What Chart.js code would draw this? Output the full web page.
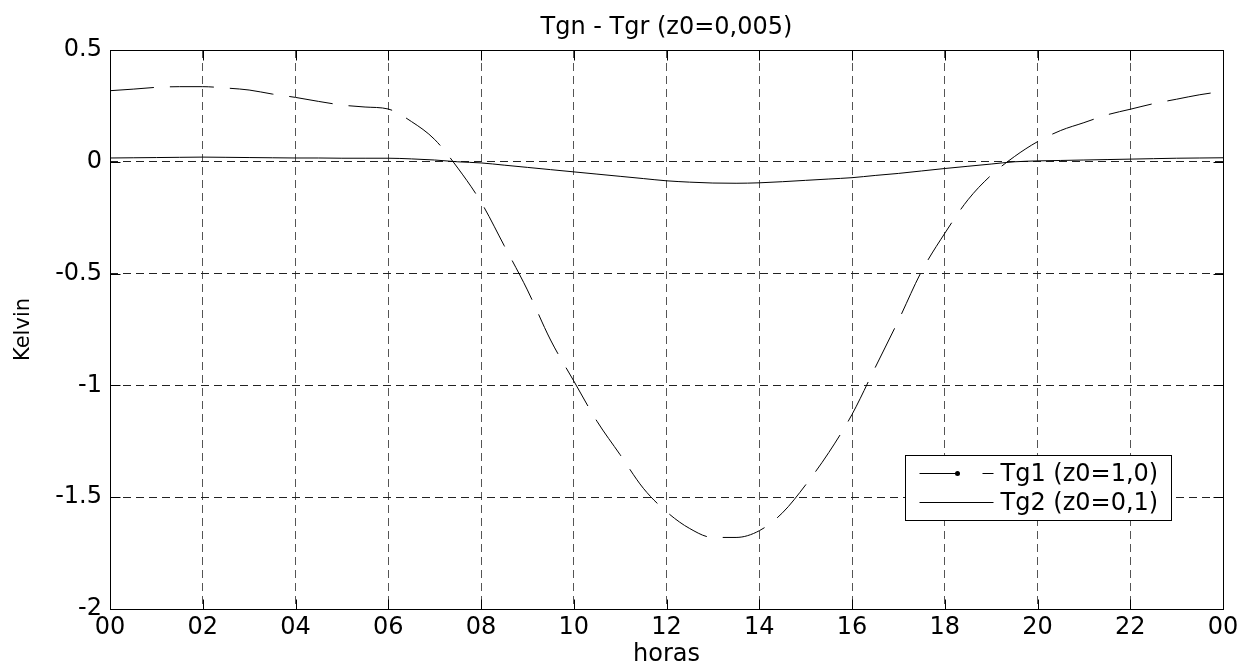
<!DOCTYPE html>
<html>
<head>
<meta charset="utf-8">
<script src="https://cdn.jsdelivr.net/npm/chart.js@4.4.0/dist/chart.umd.min.js"></script>
<style>
  html, body { margin: 0; padding: 0; background: #fff; }
  canvas { display: block; }
</style>
</head>
<body>
<canvas id="myChart" width="1241" height="664"></canvas>
<script>
    // hours of the day, sampled every half hour
    var hours = [0, 0.5, 1, 1.5, 2, 2.5, 3, 3.5, 4, 4.5, 5, 5.5, 6, 6.5, 7, 7.5, 8, 8.5, 9, 9.5,
                 10, 10.5, 11, 11.5, 12, 12.5, 13, 13.5, 14, 14.5, 15, 15.5, 16, 16.5, 17, 17.5,
                 18, 18.5, 19, 19.5, 20, 20.5, 21, 21.5, 22, 22.5, 23, 23.5, 24];
    var tg1 = [0.318, 0.325, 0.333, 0.336, 0.336, 0.330, 0.321, 0.303, 0.288, 0.270, 0.254, 0.245, 0.236,
               0.18, 0.10, -0.028, -0.18, -0.375, -0.573, -0.797, -0.98, -1.16, -1.31, -1.46, -1.565,
               -1.64, -1.68, -1.68, -1.65, -1.57, -1.445, -1.30, -1.13, -0.92, -0.71, -0.49, -0.32,
               -0.17, -0.06, 0.023, 0.09, 0.14, 0.175, 0.21, 0.235, 0.26, 0.28, 0.30, 0.315];
    var tg2 = [0.017, 0.018, 0.019, 0.020, 0.021, 0.020, 0.019, 0.018, 0.017, 0.017, 0.016, 0.016, 0.016,
               0.013, 0.008, 0.0, -0.005, -0.015, -0.025, -0.035, -0.045, -0.055, -0.065, -0.075, -0.085,
               -0.091, -0.095, -0.096, -0.094, -0.089, -0.083, -0.077, -0.071, -0.061, -0.052, -0.041, -0.03,
               -0.02, -0.01, 0.0, 0.004, 0.006, 0.008, 0.010, 0.012, 0.014, 0.016, 0.017, 0.018];
    var seriesNames = ['Tg1 (z0=1,0)', 'Tg2 (z0=0,1)'];
    var xTickLabels = ['00', '02', '04', '06', '08', '10', '12', '14', '16', '18', '20', '22', '00'];
    var yTickValues = [0.5, 0, -0.5, -1, -1.5, -2];
    var yTickLabels = ['0.5', '0', '-0.5', '-1', '-1.5', '-2'];

    var FONT = 'DejaVu Sans';

    function pts(vals) {
        return hours.map(function (h, i) { return { x: h, y: vals[i] }; });
    }

    // box around the plot, inward ticks and the legend (MATLAB look)
    var frame = {
        id: 'frame',
        afterDatasetsDraw: function (chart) {
            var ctx = chart.ctx, a = chart.chartArea, x = chart.scales.x, y = chart.scales.y;
            var L = Math.round(a.left) + 0.5, R = Math.round(a.right) + 0.5;
            var T = Math.round(a.top) + 0.5, B = Math.round(a.bottom) + 0.5;
            ctx.save();
            ctx.strokeStyle = '#000';
            ctx.lineWidth = 1;
            ctx.setLineDash([]);
            ctx.beginPath();
            x.ticks.forEach(function (t) {
                var px = Math.round(x.getPixelForValue(t.value)) + 0.5;
                ctx.moveTo(px, B); ctx.lineTo(px, B - 10);
                ctx.moveTo(px, T); ctx.lineTo(px, T + 10);
            });
            y.ticks.forEach(function (t) {
                var py = Math.round(y.getPixelForValue(t.value)) + 0.5;
                ctx.moveTo(L, py); ctx.lineTo(L + 10, py);
                ctx.moveTo(R, py); ctx.lineTo(R - 10, py);
            });
            ctx.stroke();
            ctx.strokeRect(L, T, R - L, B - T);

            // legend box
            var lx = Math.round(a.right) - 317.5, ly = Math.round(a.bottom) - 153.5;
            var lw = 266, lh = 65;
            ctx.fillStyle = '#fff';
            ctx.fillRect(lx, ly, lw, lh);
            ctx.strokeRect(lx, ly, lw, lh);
            var r1 = ly + 18, r2 = ly + 47;
            ctx.beginPath();
            ctx.moveTo(lx + 14, r1); ctx.lineTo(lx + 52, r1);
            ctx.moveTo(lx + 77, r1); ctx.lineTo(lx + 88, r1);
            ctx.moveTo(lx + 14, r2); ctx.lineTo(lx + 88, r2);
            ctx.stroke();
            ctx.fillStyle = '#000';
            ctx.beginPath();
            ctx.arc(lx + 52, r1, 2.5, 0, Math.PI * 2);
            ctx.fill();
            ctx.font = '24px "' + FONT + '"';
            ctx.textBaseline = 'middle';
            ctx.textAlign = 'left';
            ctx.fillText(chart.data.datasets[0].label, lx + 95, r1 + 1);
            ctx.fillText(chart.data.datasets[1].label, lx + 95, r2 + 1);
            ctx.restore();
        }
    };

    const ctx = document.getElementById('myChart');

    new Chart(ctx, {
        type: 'line',
        data: {
            datasets: [{
                label: seriesNames[0],
                data: pts(tg1),
                borderColor: '#000',
                borderWidth: 1,
                borderDash: [44, 16],
                pointRadius: 0,
                cubicInterpolationMode: 'monotone'
            }, {
                label: seriesNames[1],
                data: pts(tg2),
                borderColor: '#000',
                borderWidth: 1,
                pointRadius: 0,
                cubicInterpolationMode: 'monotone'
            }]
        },
        options: {
            responsive: false,
            animation: false,
            layout: { padding: { left: 0, right: 18, top: 0, bottom: 0 } },
            plugins: {
                legend: { display: false },
                tooltip: { enabled: false },
                title: {
                    display: true,
                    fullSize: false,
                    text: 'Tgn - Tgr (z0=0,005)',
                    color: '#000',
                    font: { family: FONT, size: 24, weight: 'normal', lineHeight: 1.2 },
                    padding: { top: 13, bottom: 8.2 }
                }
            },
            scales: {
                x: {
                    type: 'linear',
                    min: 0,
                    max: 24,
                    afterFit: function (s) { s.height = 55; s.paddingLeft = 0; s.paddingRight = 0; },
                    afterBuildTicks: function (s) {
                        s.ticks = xTickLabels.map(function (l, i) { return { value: i * 2 }; });
                    },
                    ticks: {
                        color: '#000',
                        padding: 4,
                        maxRotation: 0,
                        autoSkip: false,
                        font: { family: FONT, size: 24 },
                        callback: function (v, i) { return xTickLabels[i]; }
                    },
                    grid: { color: '#555', lineWidth: 1, drawTicks: false },
                    border: { display: false, dash: [8, 5] },
                    title: {
                        display: true,
                        text: 'horas',
                        color: '#000',
                        font: { family: FONT, size: 24, lineHeight: 0.8 },
                        padding: 0
                    }
                },
                y: {
                    min: -2,
                    max: 0.5,
                    afterFit: function (s) { s.width = 110; s.paddingTop = 0; s.paddingBottom = 0; },
                    afterBuildTicks: function (s) {
                        s.ticks = yTickValues.map(function (v) { return { value: v }; });
                    },
                    ticks: {
                        color: '#000',
                        padding: 8,
                        font: { family: FONT, size: 24 },
                        callback: function (v) { return yTickLabels[yTickValues.indexOf(v)]; }
                    },
                    grid: { color: '#222', lineWidth: 1, drawTicks: false },
                    border: { display: false, dash: [8, 5] },
                    title: {
                        display: true,
                        text: 'Kelvin',
                        color: '#000',
                        font: { family: FONT, size: 21, lineHeight: 1.2 },
                        padding: { top: 11, bottom: 0 }
                    }
                }
            }
        },
        plugins: [frame]
    });
</script>
</body>
</html>
